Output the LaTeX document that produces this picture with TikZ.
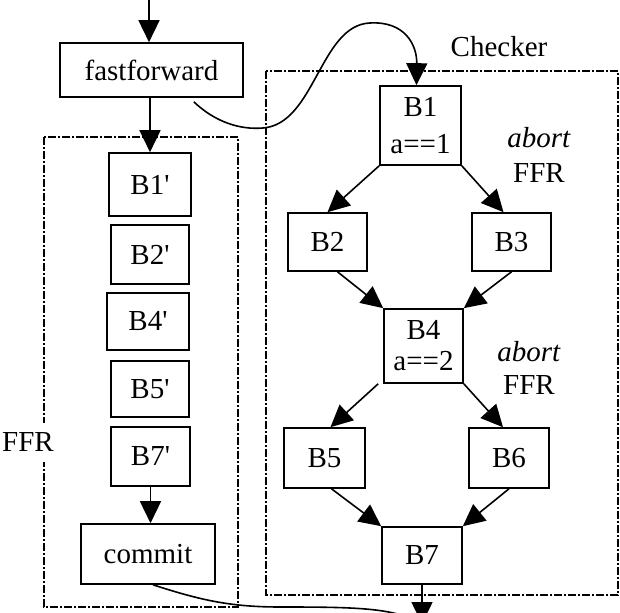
\documentclass[tikz,border=0pt]{standalone}
\usepackage{fontspec}
\setmainfont{Liberation Serif}[Ligatures=TeXOff]
\usetikzlibrary{arrows.meta}
\newcommand{\lblfont}{\fontsize{14.5}{17}\selectfont}

\begin{document}
\begin{tikzpicture}[x=0.5pt, y=-0.5pt,
  font=\lblfont,
  blk/.style={draw, line width=0.8pt, inner sep=0pt, align=center},
  flow/.style={line width=0.8pt, -{Triangle[length=11pt, width=10.5pt]}},
  wire/.style={line width=0.8pt},
  frame/.style={line width=0.8pt, dash pattern=on 4pt off 1pt on 1pt off 1pt},
  lbl/.style={inner sep=0pt, anchor=base}]

\useasboundingbox (0,0) rectangle (620,613);
\clip (0,0) rectangle (620,613);

% region frames
\draw[frame] (44,137) rectangle (238,607);
\draw[frame] (266,71) rectangle (618,595);

% fast-forward column
\node[blk, minimum width=91.5pt, minimum height=27pt] (ff) at (151.5,70) {fastforward};
\node[blk, minimum width=41pt, minimum height=31.5pt] (b1p) at (150,184.5) {B1'};
\node[blk, minimum width=39pt, minimum height=29.5pt] (b2p) at (150,254.5) {B2'};
\node[blk, minimum width=41pt, minimum height=28.5pt] (b4p) at (148,321.5) {B4'};
\node[blk, minimum width=39pt, minimum height=28pt] (b5p) at (150,389) {B5'};
\node[blk, minimum width=39.5pt, minimum height=29.5pt] (b7p) at (150.5,456.5) {B7'};
\node[blk, minimum width=67pt, minimum height=30pt] (commit) at (148,554) {commit};

% checker graph
\node[blk, minimum width=40.5pt, minimum height=39.5pt, font=\fontsize{14.5}{18.5}\selectfont] (B1) at (420.5,125.5) {B1\\a==1};
\node[blk, minimum width=39.5pt, minimum height=29pt] (B2) at (327.5,242) {B2};
\node[blk, minimum width=39.5pt, minimum height=29pt] (B3) at (511.5,242) {B3};
\node[blk, minimum width=39.5pt, minimum height=37pt, font=\fontsize{14.5}{15.5}\selectfont] (B4) at (423.5,346) {B4\\a==2};
\node[blk, minimum width=40.5pt, minimum height=30pt] (B5) at (324.5,458) {B5};
\node[blk, minimum width=40pt, minimum height=30pt] (B6) at (509,458) {B6};
\node[blk, minimum width=40pt, minimum height=28.5pt] (B7) at (422,555.5) {B7};

% labels (base anchor sits on the last line of a two-line label)
\node[lbl] (checker) at (499,57) {Checker};
\node[lbl, align=center, font=\fontsize{14.5}{17.5}\selectfont] (ab1) at (539,183) {\textit{abort}\\FFR};
\node[lbl, align=center, font=\fontsize{14.5}{16.5}\selectfont] (ab2) at (529,395) {\textit{abort}\\FFR};
\node[lbl, fill=white, inner xsep=1pt, inner ysep=5pt] (ffr) at (28,452) {FFR};

% free ends
\coordinate (entry) at (149,-5);
\coordinate (exit) at (422,624);

% left column flow
\draw[flow] (entry) -- (entry |- ff.north);
\draw[flow] (b1p.north |- ff.south) -- (b1p.north);
\draw[flow] (b7p.south) -- (b7p.south |- commit.north);

% hand-off from fastforward to the checker
\draw[wire, -{Triangle[length=11pt, width=10.5pt]}]
  ([shift={(-25pt,-2pt)}]ff.south east)
  .. controls (215,122) and (240,130) .. (263,128)
  .. controls (315,124) and (320,25) .. (370,23)
  .. controls (405,21) and (417,45) .. ([xshift=-2pt]B1.north);

% checker flow
\draw[flow] (B1.south west) -- (B2.north);
\draw[flow] (B1.south east) -- ([xshift=-4pt]B3.north);
\draw[flow] ([xshift=5pt]B2.south) -- (B4.north west);
\draw[flow] (B3.south) -- (B4.north east);
\draw[flow] ([xshift=-2.5pt]B4.south west) -- ([xshift=3pt]B5.north);
\draw[flow] (B4.south east) -- ([xshift=-3pt]B6.north);
\draw[flow] ([xshift=3.5pt]B5.south) -- (B7.north west);
\draw[flow] (B6.south) -- (B7.north east);
\draw[flow] (B7.south) -- (exit);

% commit joins the exit
\draw[wire] ([xshift=2.5pt]commit.south)
  .. controls (200,600) and (230,607) .. (280,607)
  .. controls (360,607) and (395,608) .. (exit);
\end{tikzpicture}
\end{document}
